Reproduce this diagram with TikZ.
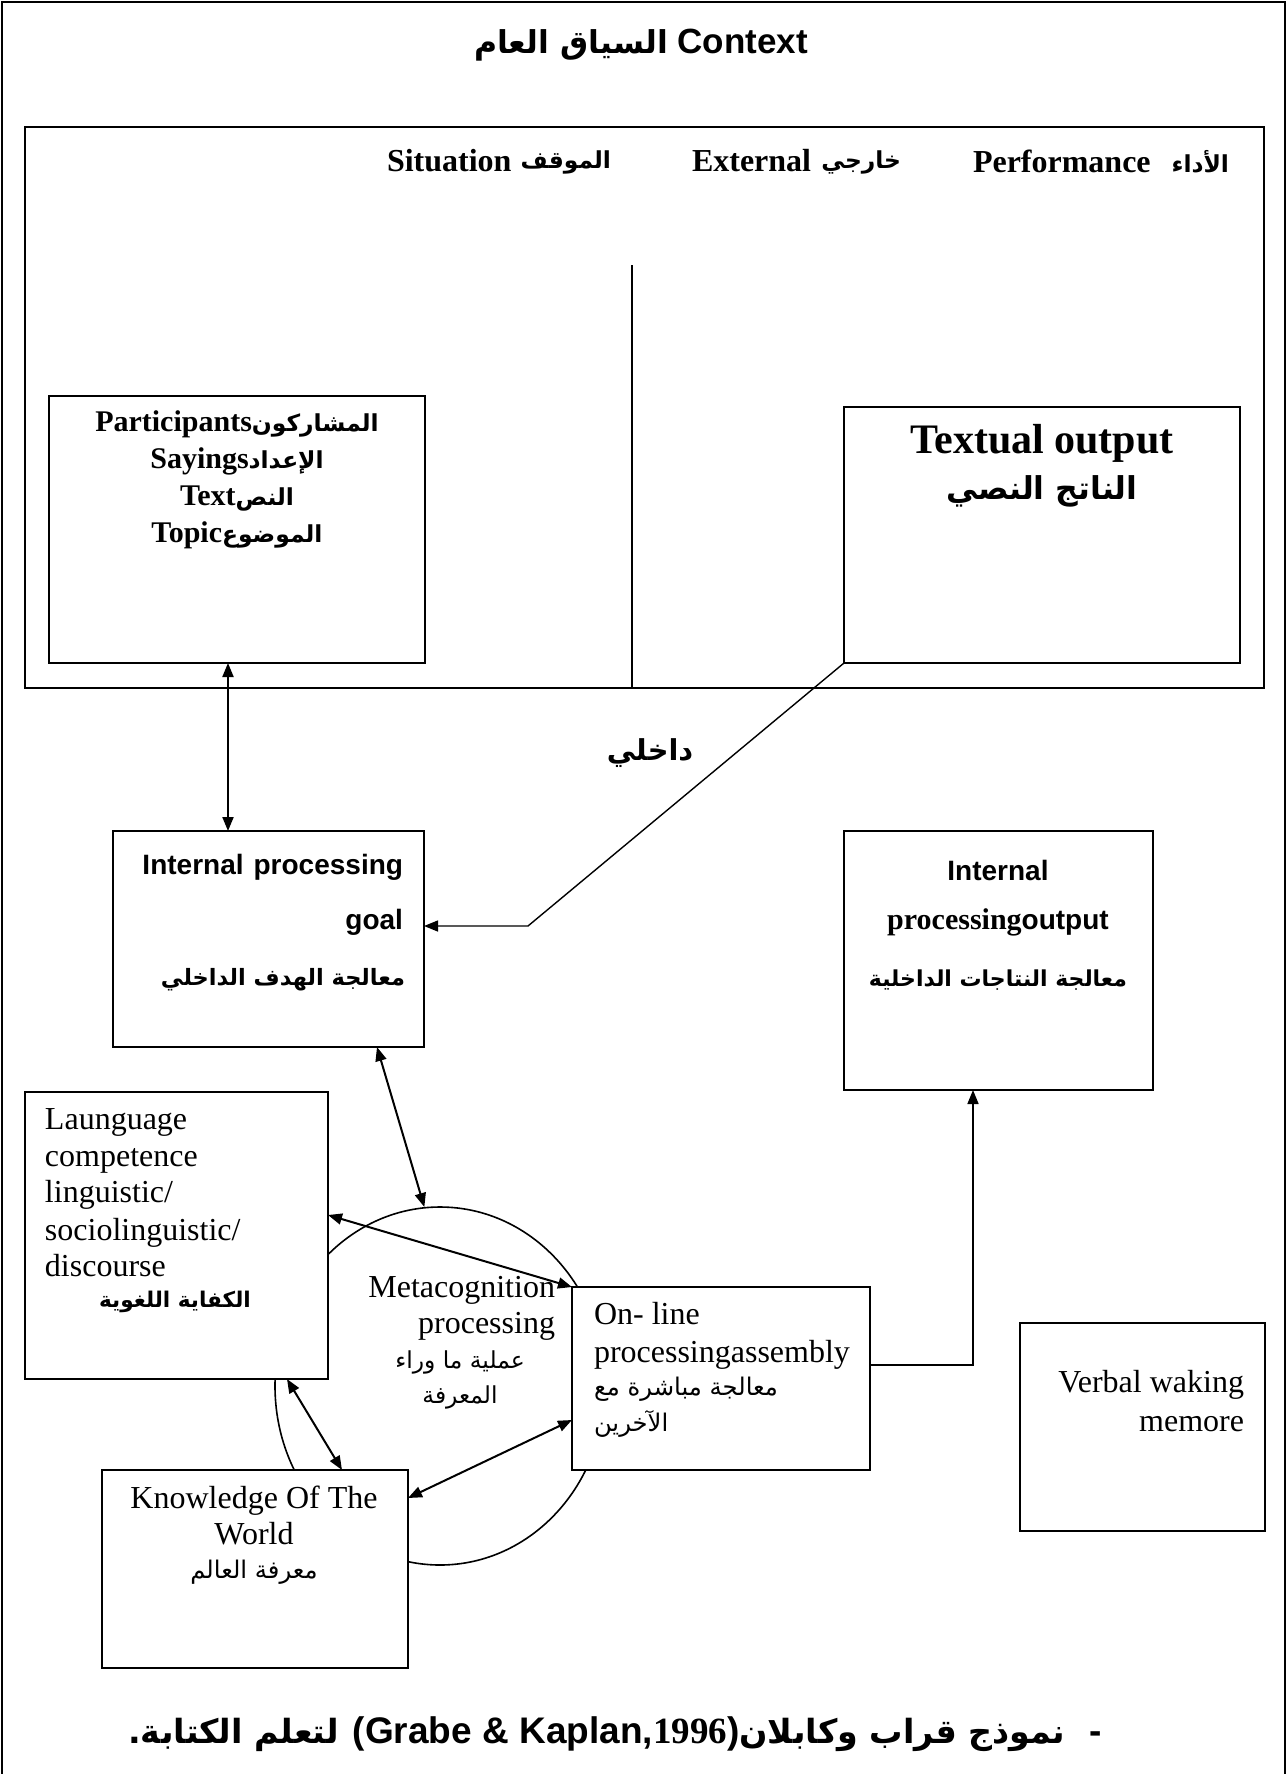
\documentclass[tikz,border=0pt]{standalone}
\usepackage{fontspec}
\setmainfont{Liberation Serif}
\setsansfont{Liberation Sans}
\newfontfamily\arf[Script=Arabic,Scale=0.9]{DejaVu Sans}
\TeXXeTstate=1
\usetikzlibrary{arrows.meta,shapes.geometric}
\newcommand\fsz[1]{\fontsize{#1}{#1}\selectfont}
\begin{document}
\begin{tikzpicture}[x=0.5pt,y=-0.5pt,
  box/.style={draw,line width=1pt,fill=white,inner sep=0pt,outer sep=0pt},
  txt/.style={inner sep=0pt,outer sep=0pt},
  dbl/.style={{Triangle[length=7pt,width=5.5pt]}-{Triangle[length=7pt,width=5.5pt]},line width=1pt},
  sgl/.style={-{Triangle[length=7pt,width=5.5pt]},line width=0.8pt},
  rowf/.style={txt,font=\bfseries\fsz{16}},
  rowa/.style={txt,font=\arf\bfseries\fsz{13}},
  tm/.style={txt,font=\fsz{16}},
  tma/.style={txt,font=\arf\fsz{13.5}},
  ]
\useasboundingbox (0,0) rectangle (1287,1774);
% outer frame
\coordinate (fbl) at (2,1774);
\coordinate (ftl) at (2,2);
\coordinate (ftr) at (1285,2);
\coordinate (fbr) at (1285,1774);
\draw[line width=1.4pt] (fbl) -- (ftl) -- (ftr) -- (fbr);
% external area
\node[box,line width=1pt,minimum width=619.5pt,minimum height=280.5pt] (ext) at (644.5,407.5) {};
\coordinate (divtop) at (632,265);
\draw[line width=0.8pt] (divtop) -- (divtop |- ext.south);
% boxes
\node[box,minimum width=188pt,minimum height=133.5pt] (part) at (237,529.5) {};
\node[box,minimum width=198pt,minimum height=128pt] (textout) at (1042,535) {};
\node[box,minimum width=155.5pt,minimum height=108pt] (goal) at (268.5,939) {};
\node[box,minimum width=154.5pt,minimum height=129.5pt] (outbox) at (998.5,960.5) {};
\node[draw,ellipse,line width=0.8pt,minimum width=165pt,minimum height=179pt,inner sep=0pt] (meta) at (440,1386) {};
\node[box,minimum width=151.5pt,minimum height=143.5pt] (lang) at (176.5,1235.5) {};
\node[box,minimum width=149pt,minimum height=91.5pt] (online) at (721,1378.5) {};
\node[box,minimum width=153pt,minimum height=99pt] (know) at (255,1569) {};
\node[box,minimum width=122.5pt,minimum height=104pt] (verbal) at (1142.5,1427) {};
% connectors
\draw[dbl] (part.south -| 228,0) -- (goal.north -| 228,0);
\coordinate (bend) at (528,926);
\draw[sgl,line width=0.7pt] (textout.south west) -- (bend) -- (goal.east |- bend);
\draw[dbl] (goal.south -| 377,0) -- (meta.95);
\draw[dbl] (lang.east |- 0,1215) -- (online.north west);
\draw[dbl] (lang.south -| 287,0) -- (know.north -| 342,0);
\draw[dbl] (know.east |- 0,1498) -- (online.west |- 0,1420);
\coordinate (elbow) at (973,1365);
\draw[sgl] (online.east |- elbow) -- (elbow) -- (outbox.south -| elbow);
% texts
\node[txt,font=\sffamily\bfseries\fsz{17.5}] (title) at (641,45) {{\arf\beginR السياق العام\endR} Context};
\node[rowf,anchor=west] (sitE) at (387,161) {Situation};
\node[rowa,anchor=east] (sitA) at (611,162) {\beginR الموقف\endR};
\node[rowf,anchor=west] (extE) at (692,161) {External};
\node[rowa,anchor=east] (extA) at (901,162) {\beginR خارجي\endR};
\node[rowf,anchor=west] (perE) at (973,161) {Performance};
\node[rowa,anchor=east] (perA) at (1229,162) {\beginR الأداء\endR};
\node[txt,align=center,font=\bfseries\fontsize{15}{18.5}\selectfont] (parttxt) at (237,480)
  {Participants{\arf\fsz{13}\beginR المشاركون\endR}\\Sayings{\arf\fsz{13}\beginR الإعداد\endR}\\Text{\arf\fsz{13}\beginR النص\endR}\\Topic{\arf\fsz{13}\beginR الموضوع\endR}};
\node[txt,font=\bfseries\fsz{21}] (to1) at (1042,443) {Textual output};
\node[txt,font=\arf\bfseries\fsz{17.5}] (to2) at (1042,491) {\beginR الناتج النصي\endR};
\node[txt,font=\arf\bfseries\fsz{16}] (inner) at (650,753) {\beginR داخلي\endR};
\node[txt,anchor=east,font=\sffamily\bfseries\fsz{14}] (g1) at (403,867) {Internal\hspace{5pt}processing};
\node[txt,anchor=east,font=\sffamily\bfseries\fsz{14}] (g2) at (403,922) {goal};
\node[txt,anchor=east,font=\arf\bfseries\fsz{12.5}] (g3) at (405,980) {\beginR معالجة الهدف الداخلي\endR};
\node[txt,font=\sffamily\bfseries\fsz{14}] (o1) at (998,870) {Internal};
\node[txt,font=\sffamily\bfseries\fsz{14}] (o2) at (998,922) {{\rmfamily\fsz{15}processing}output};
\node[txt,font=\arf\bfseries\fsz{12.2}] (o3) at (998,980) {\beginR معالجة النتاجات الداخلية\endR};
\node[tm,anchor=base west] (l1) at (45,1129) {Launguage};
\node[tm,anchor=base west] (l2) at (45,1166) {competence};
\node[tm,anchor=base west] (l3) at (45,1202) {linguistic/};
\node[tm,anchor=base west] (l4) at (45,1240) {sociolinguistic/};
\node[tm,anchor=base west] (l5) at (45,1276) {discourse};
\node[txt,font=\arf\bfseries\fsz{12}] (l6) at (175,1302) {\beginR الكفاية اللغوية\endR};
\node[tm,anchor=base east] (m1) at (555,1297) {Metacognition};
\node[tm,anchor=base east] (m2) at (555,1333) {processing};
\node[tma,font=\arf\fsz{13}] (m3) at (460,1362) {\beginR عملية ما وراء\endR};
\node[tma,font=\arf\fsz{13}] (m4) at (460,1397) {\beginR المعرفة\endR};
\node[tm,anchor=base west] (on1) at (594,1324) {On- line};
\node[tm,anchor=base west] (on2) at (594,1362) {processingassembly};
\node[tma,anchor=west] (on3) at (594,1389) {\beginR معالجة مباشرة مع\endR};
\node[tma,anchor=west] (on4) at (594,1424) {\beginR الآخرين\endR};
\node[tm,anchor=base east] (v1) at (1244,1392) {Verbal waking};
\node[tm,anchor=base east] (v2) at (1244,1431) {memore};
\node[tm,anchor=base] (k1) at (254,1508) {Knowledge Of The};
\node[tm,anchor=base] (k2) at (254,1544) {World};
\node[tma] (k3) at (254,1572) {\beginR معرفة العالم\endR};
\node[txt,font=\sffamily\bfseries\fsz{18.5}] (cap) at (615,1734)
  {{\arf\beginR لتعلم الكتابة.\endR} (Grabe \& Kaplan,{\rmfamily 1996}){\arf\beginR نموذج قراب وكابلان\endR}\hspace{12pt}-};
\end{tikzpicture}
\end{document}
